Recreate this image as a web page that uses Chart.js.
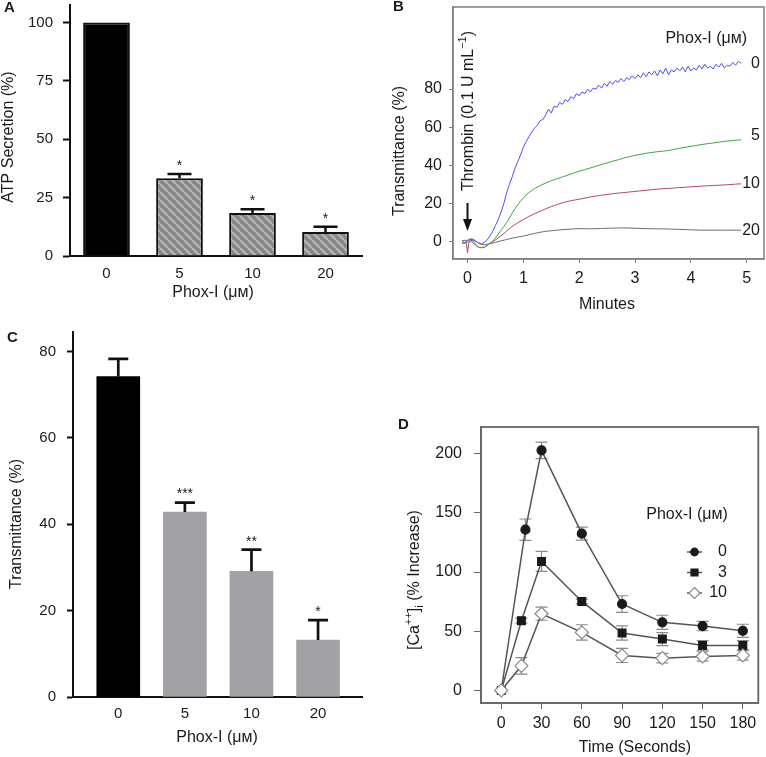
<!DOCTYPE html>
<html>
<head>
<meta charset="utf-8">
<script src="https://cdn.jsdelivr.net/npm/chart.js@4.4.0/dist/chart.umd.min.js"></script>
<style>
  html, body { margin: 0; padding: 0; background: #fff; }
  body { width: 766px; height: 757px; position: relative; overflow: hidden; }
  canvas { position: absolute; }
</style>
</head>
<body>
<canvas id="chartA" width="380" height="320" style="left:0;top:0"></canvas>
<canvas id="chartB" width="386" height="320" style="left:380px;top:0"></canvas>
<canvas id="chartC" width="380" height="437" style="left:0;top:320px"></canvas>
<canvas id="chartD" width="386" height="387" style="left:380px;top:370px"></canvas>
<script>
// Panel A - ATP secretion
const doseLabelsA = ['0', '5', '10', '20'];
const atpSecretion = [100, 33.3, 18.4, 10.3];
const atpError = [0, 1.8, 1.6, 2.2];
const atpStars = ['', '*', '*', '*'];
const atpTicks = [0, 25, 50, 75, 100];

// Panel B - aggregation traces [minutes, transmittance %]
const traceTicksX = [0, 1, 2, 3, 4, 5];
const traceTicksY = [0, 20, 40, 60, 80];
const traceNames = ['0', '5', '10', '20'];
const trace0 = [[-0.1,0.2],[-0.05,-0.5],[0,0.5],[0.05,1.2],[0.1,1.0],[0.15,0.3],[0.2,-0.6],[0.25,-1.0],[0.3,-0.3],
  [0.35,1.0],[0.4,3.0],[0.45,5.5],[0.5,8.5],[0.55,11.7],[0.6,15.5],[0.65,20],[0.7,25.6],[0.75,30],[0.8,34],
  [0.85,38.5],[0.9,42],[0.95,45.5],[1.0,49.5],[1.05,52.5],[1.1,55],[1.15,57.5],[1.2,59.5],[1.25,61],[1.3,63.5],
  [1.35,64],[1.4,66.5],[1.45,69.5],[1.5,67.5],[1.55,71],[1.6,70.5],[1.65,73],[1.7,72],[1.75,74.5],[1.8,73.5],
  [1.85,76],[1.9,75],[1.95,77.5],[2.0,76.5],[2.05,78.5],[2.1,77.5],[2.15,80],[2.2,78.5],[2.25,80.5],[2.3,80],
  [2.35,82],[2.4,80.5],[2.45,83],[2.5,81.5],[2.55,84],[2.6,82.5],[2.65,84.5],[2.7,83.5],[2.75,85.5],[2.8,84],
  [2.85,86],[2.9,85],[2.95,87],[3.0,85.5],[3.05,87.5],[3.1,86],[3.15,88.5],[3.2,86.5],[3.25,89],[3.3,87.5],
  [3.35,89.5],[3.4,87],[3.45,90],[3.5,88],[3.55,91],[3.6,87.5],[3.65,90],[3.7,89],[3.75,91],[3.8,89.5],
  [3.85,91.5],[3.9,89],[3.95,92],[4.0,89.5],[4.05,91],[4.1,90],[4.15,92.5],[4.2,90.5],[4.25,93],[4.3,91],
  [4.35,92],[4.4,90.5],[4.45,93],[4.5,91.5],[4.55,93.5],[4.6,91],[4.65,92.5],[4.7,92],[4.75,94],[4.8,92.5],
  [4.85,94.5],[4.9,93.5]];
const trace5 = [[-0.1,-0.9],[-0.05,-0.5],[0,-0.3],[0.05,0.3],[0.1,-0.5],[0.15,-2],[0.2,-3],[0.25,-3.1],[0.3,-3],
  [0.35,-2],[0.4,-0.8],[0.45,0.3],[0.5,2],[0.55,4],[0.6,6],[0.65,8],[0.7,10],[0.75,12.5],[0.8,15],[0.85,17.3],
  [0.9,19.4],[0.95,21.3],[1.0,23],[1.05,24.5],[1.1,25.8],[1.15,26.9],[1.2,27.9],[1.3,29.5],[1.4,30.8],[1.5,32],
  [1.6,33],[1.7,34],[1.8,35],[1.9,36],[2.0,37],[2.1,37.8],[2.2,38.7],[2.3,39.6],[2.4,40.5],[2.5,41.3],[2.6,42.2],
  [2.7,43],[2.8,43.9],[2.9,44.6],[3.0,45.3],[3.2,46.4],[3.4,47.2],[3.6,47.8],[3.8,49],[4.0,50],[4.2,51],[4.4,51.8],
  [4.6,52.6],[4.8,53.2],[4.9,53.4]];
const trace10 = [[-0.1,-1],[-0.05,-0.5],[-0.02,-1],[0,-5.8],[0.02,-1],[0.05,0.8],[0.1,0.5],[0.15,-1.5],[0.2,-2.8],
  [0.25,-3],[0.3,-2.8],[0.35,-2],[0.4,-0.8],[0.5,1],[0.6,3.2],[0.7,5.6],[0.8,8],[0.9,10],[1.0,11.7],[1.1,13.3],
  [1.2,14.7],[1.3,16],[1.4,17.3],[1.5,18.5],[1.6,19.5],[1.7,20.4],[1.8,21.2],[1.9,21.8],[2.0,22.3],[2.2,23.5],
  [2.4,24.4],[2.6,25.2],[2.8,25.8],[3.0,26.4],[3.2,27],[3.4,27.6],[3.6,28],[3.8,28.4],[4.0,28.8],[4.2,29.2],
  [4.4,29.5],[4.6,29.8],[4.8,30.2],[4.9,30.4]];
const trace20 = [[-0.1,0.7],[0,0.8],[0.05,1.6],[0.1,1.4],[0.15,0.3],[0.2,-0.8],[0.25,-1.4],[0.3,-1.5],[0.4,-1],
  [0.5,-0.3],[0.6,0.5],[0.7,1.2],[0.8,1.9],[0.9,2.5],[1.0,3],[1.1,3.7],[1.2,4.4],[1.3,5],[1.4,5.5],[1.5,5.8],
  [1.6,6.1],[1.8,6.6],[2.0,6.9],[2.2,6.8],[2.4,7.0],[2.6,7.2],[2.8,7.3],[3.0,7.1],[3.2,6.9],[3.4,6.8],[3.6,6.7],
  [3.8,6.5],[4.0,6.3],[4.2,6.1],[4.4,6.1],[4.6,6.1],[4.9,6.1]];

// Panel C - transmittance
const doseLabelsC = ['0', '5', '10', '20'];
const doseIndexC = [0, 1, 2, 3];
const transMean = [74.2, 42.8, 29.1, 13.2];
const transError = [4.1, 2.2, 5.0, 4.6];
const transStars = ['', '***', '**', '*'];
const transTicks = [0, 20, 40, 60, 80];

// Panel D - [Ca++]i
const timeTicks = [0, 30, 60, 90, 120, 150, 180];
const caTicks = [0, 50, 100, 150, 200];
const caNames = ['0', '3', '10'];
const time0 = [0, 18, 30, 60, 90, 120, 150, 180];
const time3 = [0, 15, 30, 60, 90, 120, 150, 180];
const time10 = [0, 15, 30, 60, 90, 120, 150, 180];
const ca0 = [0, 135.8, 202.8, 132.4, 73, 57.5, 54.4, 50.4];
const ca0Err = [0, 9, 7, 5.5, 7, 6, 4, 5.5];
const ca3 = [0, 58.9, 109, 75.2, 48.5, 43.4, 38, 38];
const ca3Err = [0, 2, 8.5, 2, 6, 5.5, 4, 4];
const ca10 = [0, 20.8, 64.8, 49, 29.6, 27.3, 28.7, 29.6];
const ca10Err = [0, 7, 5.5, 6.5, 6, 4, 4, 4];

const FONT = '"Liberation Sans", Arial, Helvetica, sans-serif';
const INK = '#1a1a1a';
Chart.defaults.font.family = FONT;
Chart.defaults.color = INK;
Chart.defaults.animation = false;
Chart.defaults.events = [];
Chart.defaults.plugins.legend.display = false;
Chart.defaults.plugins.tooltip.enabled = false;

// pin the axis boxes so the plot areas land where the figure has them
function fixWidth(w) { return scale => { scale.width = w; scale.paddingTop = 0; scale.paddingBottom = 0; }; }
function fixHeight(h) { return scale => { scale.height = h; scale.paddingLeft = 0; scale.paddingRight = 0; }; }
function setTicks(values) { return scale => { scale.ticks = values.map(v => ({ value: v })); }; }
function toPoints(pairs) { return pairs.map(p => ({ x: p[0], y: p[1] })); }
function zipXY(xs, ys) { return xs.map((x, i) => ({ x: x, y: ys[i] })); }

function drawText(ctx, text, x, y, size, opts) {
  opts = opts || {};
  ctx.save();
  ctx.font = (opts.bold ? 'bold ' : '') + size + 'px ' + FONT;
  ctx.fillStyle = opts.color || INK;
  ctx.textAlign = opts.align || 'center';
  ctx.textBaseline = opts.baseline || 'middle';
  ctx.translate(x, y);
  if (opts.rotate) ctx.rotate(-Math.PI / 2);
  ctx.fillText(text, 0, 0);
  ctx.restore();
}

// text made of pieces with super/subscripts, centred on (x, y), optionally rotated
function drawRichText(ctx, parts, x, y, size, rotate) {
  ctx.save();
  ctx.translate(x, y);
  if (rotate) ctx.rotate(-Math.PI / 2);
  ctx.fillStyle = INK;
  ctx.textBaseline = 'middle';
  ctx.textAlign = 'left';
  let total = 0;
  parts.forEach(p => {
    ctx.font = (p.size || size) + 'px ' + FONT;
    p.w = ctx.measureText(p.t).width;
    total += p.w;
  });
  let cx = -total / 2;
  parts.forEach(p => {
    ctx.font = (p.size || size) + 'px ' + FONT;
    ctx.fillText(p.t, cx, p.dy || 0);
    cx += p.w;
  });
  ctx.restore();
}

function drawErrorBars(chart, dsIndex, means, errs, style) {
  const ctx = chart.ctx;
  const meta = chart.getDatasetMeta(dsIndex);
  const yScale = chart.scales.y;
  ctx.save();
  ctx.strokeStyle = style.color;
  ctx.lineWidth = style.width;
  means.forEach((m, i) => {
    if (!errs[i]) return;
    const x = meta.data[i].x;
    const top = yScale.getPixelForValue(m + errs[i]);
    const bottom = yScale.getPixelForValue(style.both ? m - errs[i] : m);
    ctx.beginPath();
    ctx.moveTo(x, bottom);
    ctx.lineTo(x, top);
    ctx.moveTo(x - style.cap, top);
    ctx.lineTo(x + style.cap, top);
    if (style.both) {
      ctx.moveTo(x - style.cap, bottom);
      ctx.lineTo(x + style.cap, bottom);
    }
    ctx.stroke();
    if (style.stars && style.stars[i]) {
      drawText(ctx, style.stars[i], x, top - style.starGap, 14);
    }
  });
  ctx.restore();
}

const framePlugin = {
  id: 'frame',
  afterDraw(chart, args, opts) {
    const a = chart.chartArea, ctx = chart.ctx;
    ctx.save();
    ctx.strokeStyle = opts.color;
    ctx.lineWidth = opts.width;
    ctx.strokeRect(a.left, a.top, a.right - a.left, a.bottom - a.top);
    ctx.restore();
  }
};

// hatched fill for panel A
function makeHatch() {
  const c = document.createElement('canvas');
  c.width = 8; c.height = 8;
  const g = c.getContext('2d');
  g.fillStyle = '#868686';
  g.fillRect(0, 0, 8, 8);
  g.strokeStyle = '#b4b4b4';
  g.lineWidth = 2.4;
  [-8, 0, 8].forEach(o => {
    g.beginPath();
    g.moveTo(o, 0);
    g.lineTo(o + 8, 8);
    g.stroke();
  });
  return g.createPattern(c, 'repeat');
}

// ---------- Panel A ----------
const hatch = makeHatch();
new Chart(document.getElementById('chartA'), {
  type: 'bar',
  data: {
    labels: doseLabelsA,
    datasets: [{
      data: atpSecretion,
      backgroundColor: ['#000', hatch, hatch, hatch],
      borderColor: '#111',
      borderWidth: 2,
      barPercentage: 0.64,
      categoryPercentage: 1
    }]
  },
  options: {
    responsive: false,
    layout: { padding: { left: 0, top: 5, right: 18, bottom: 0 } },
    scales: {
      x: {
        grid: { display: true, drawOnChartArea: false, drawTicks: false },
        border: { color: '#111', width: 2 },
        ticks: { font: { size: 15 }, padding: 9 },
        afterFit: fixHeight(64)
      },
      y: {
        min: 0, max: 107.5,
        afterBuildTicks: setTicks(atpTicks),
        grid: { drawOnChartArea: false, tickLength: 7, tickWidth: 2, color: '#111' },
        border: { color: '#111', width: 2 },
        ticks: { font: { size: 15 }, padding: 10 },
        afterFit: fixWidth(70)
      }
    }
  },
  plugins: [{
    id: 'extrasA',
    afterDatasetsDraw(chart) {
      drawErrorBars(chart, 0, atpSecretion, atpError, { color: '#111', width: 2.5, cap: 12, stars: atpStars, starGap: 8 });
    },
    afterDraw(chart) {
      const ctx = chart.ctx;
      drawText(ctx, 'A', 4, 8, 15, { bold: true, align: 'left' });
      drawText(ctx, 'ATP Secretion (%)', 9, 137, 16, { rotate: true });
      drawText(ctx, 'Phox-I (\u03bc\u043c)', 213, 293, 16);
    }
  }]
});

// ---------- Panel B ----------
const traceColors = ['#4f4ff2', '#3fa83f', '#b3476f', '#6e6e6e'];
const traces = [trace0, trace5, trace10, trace20];
new Chart(document.getElementById('chartB'), {
  type: 'line',
  data: {
    datasets: traces.map((t, i) => ({
      label: traceNames[i],
      data: toPoints(t),
      borderColor: traceColors[i],
      borderWidth: 1,
      pointRadius: 0,
      tension: 0
    }))
  },
  options: {
    responsive: false,
    layout: { padding: { left: 0, top: 7, right: 2, bottom: 0 } },
    scales: {
      x: {
        type: 'linear', min: -0.26, max: 5.31,
        afterBuildTicks: setTicks(traceTicksX),
        grid: { drawOnChartArea: false, tickLength: 4, color: '#808080' },
        border: { color: '#808080', width: 1.5 },
        ticks: { font: { size: 16 }, padding: 6 },
        afterFit: fixHeight(61)
      },
      y: {
        min: -9, max: 123,
        afterBuildTicks: setTicks(traceTicksY),
        grid: { drawOnChartArea: false, tickLength: 4, color: '#808080' },
        border: { color: '#808080', width: 1.5 },
        ticks: { font: { size: 16 }, padding: 7 },
        afterFit: fixWidth(73)
      }
    },
    plugins: { frame: { color: '#808080', width: 1.5 } }
  },
  plugins: [framePlugin, {
    id: 'extrasB',
    afterDraw(chart) {
      const ctx = chart.ctx, xs = chart.scales.x, ys = chart.scales.y;
      drawText(ctx, 'B', 13, 7, 15, { bold: true, align: 'left' });
      drawText(ctx, 'Transmittance (%)', 20, 151, 16, { rotate: true });
      drawText(ctx, 'Minutes', 227, 305, 16);
      drawText(ctx, 'Phox-I (\u03bc\u043c)', 367, 39, 16, { align: 'right' });
      // dose labels at the end of each trace
      traces.forEach((t, i) => {
        const last = t[t.length - 1];
        const y = ys.getPixelForValue(last[1]) - (i === 1 ? 4 : 0);
        drawText(ctx, traceNames[i], 380, y, 16, { align: 'right' });
      });
      // thrombin arrow at time 0
      const ax = xs.getPixelForValue(0);
      ctx.save();
      ctx.strokeStyle = '#111';
      ctx.fillStyle = '#111';
      ctx.lineWidth = 2;
      ctx.beginPath();
      ctx.moveTo(ax, 203);
      ctx.lineTo(ax, 221);
      ctx.stroke();
      ctx.beginPath();
      ctx.moveTo(ax - 4.5, 219);
      ctx.lineTo(ax + 4.5, 219);
      ctx.lineTo(ax, 231);
      ctx.closePath();
      ctx.fill();
      ctx.restore();
      drawRichText(ctx, [
        { t: 'Thrombin (0.1 U mL' },
        { t: '\u22121', size: 11, dy: -6 },
        { t: ')' }
      ], ax + 1, 111, 16, true);
    }
  }]
});

// ---------- Panel C ----------
new Chart(document.getElementById('chartC'), {
  type: 'bar',
  data: {
    datasets: [{
      data: zipXY(doseIndexC, transMean),
      backgroundColor: ['#000', '#a2a2a6', '#a2a2a6', '#a2a2a6'],
      borderWidth: 0,
      barThickness: 43
    }]
  },
  options: {
    responsive: false,
    layout: { padding: { left: 0, top: 12, right: 18, bottom: 0 } },
    scales: {
      x: {
        type: 'linear', min: -0.68, max: 3.66, offset: false,
        afterBuildTicks: setTicks(doseIndexC),
        grid: { display: true, drawOnChartArea: false, drawTicks: false, offset: false },
        border: { color: '#111', width: 2 },
        ticks: { font: { size: 15 }, padding: 8, callback: (v, i) => doseLabelsC[i] },
        afterFit: fixHeight(60)
      },
      y: {
        min: 0, max: 84.5,
        afterBuildTicks: setTicks(transTicks),
        grid: { drawOnChartArea: false, tickLength: 6, tickWidth: 2, color: '#111' },
        border: { color: '#111', width: 2 },
        ticks: { font: { size: 15 }, padding: 11 },
        afterFit: fixWidth(73)
      }
    }
  },
  plugins: [{
    id: 'extrasC',
    afterDatasetsDraw(chart) {
      drawErrorBars(chart, 0, transMean, transError, { color: '#111', width: 2.7, cap: 10, stars: transStars, starGap: 8 });
    },
    afterDraw(chart) {
      const ctx = chart.ctx;
      drawText(ctx, 'C', 7, 18, 15, { bold: true, align: 'left' });
      drawText(ctx, 'Transmittance (%)', 17, 204, 16, { rotate: true });
      drawText(ctx, 'Phox-I (\u03bc\u043c)', 217, 418, 16);
    }
  }]
});

// ---------- Panel D ----------
const caStyles = [
  { pointStyle: 'circle', radius: 4.5, fill: '#1a1a1a', stroke: '#1a1a1a' },
  { pointStyle: 'rect', radius: 5.5, fill: '#1a1a1a', stroke: '#1a1a1a' },
  { pointStyle: 'rectRot', radius: 6.5, fill: '#ffffff', stroke: '#8a8a8a' }
];
const caSeries = [
  { x: time0, y: ca0, err: ca0Err },
  { x: time3, y: ca3, err: ca3Err },
  { x: time10, y: ca10, err: ca10Err }
];
new Chart(document.getElementById('chartD'), {
  type: 'line',
  data: {
    datasets: caSeries.map((s, i) => ({
      label: caNames[i],
      data: zipXY(s.x, s.y),
      borderColor: '#555',
      borderWidth: 1.5,
      tension: 0,
      pointStyle: caStyles[i].pointStyle,
      pointRadius: caStyles[i].radius,
      pointBackgroundColor: caStyles[i].fill,
      pointBorderColor: caStyles[i].stroke,
      pointBorderWidth: 1.2,
      order: 2 - i
    }))
  },
  options: {
    responsive: false,
    layout: { padding: { left: 0, top: 57, right: 6, bottom: 0 } },
    scales: {
      x: {
        type: 'linear', min: -15.1, max: 191.5,
        afterBuildTicks: setTicks(timeTicks),
        grid: { drawOnChartArea: false, tickLength: 6, color: '#666' },
        border: { color: '#666', width: 1.5 },
        ticks: { font: { size: 16 }, padding: 5 },
        afterFit: fixHeight(54)
      },
      y: {
        min: -10.6, max: 222.5,
        afterBuildTicks: setTicks(caTicks),
        grid: { drawOnChartArea: false, tickLength: 7, color: '#666' },
        border: { color: '#666', width: 1.5 },
        ticks: { font: { size: 16 }, padding: 12 },
        afterFit: fixWidth(101)
      }
    },
    plugins: { frame: { color: '#666', width: 1.8 } }
  },
  plugins: [framePlugin, {
    id: 'extrasD',
    beforeDatasetsDraw(chart) {
      caSeries.forEach((s, i) => {
        drawErrorBars(chart, i, s.y, s.err, { color: '#8a8a8a', width: 1.2, cap: 6, both: true });
      });
    },
    afterDraw(chart) {
      const ctx = chart.ctx;
      drawText(ctx, 'D', 18, 55, 15, { bold: true, align: 'left' });
      drawRichText(ctx, [
        { t: '[Ca' },
        { t: '++', size: 11, dy: -6 },
        { t: ']' },
        { t: 'i', size: 11, dy: 5 },
        { t: ' (% Increase)' }
      ], 35, 210, 16, true);
      drawText(ctx, 'Time (Seconds)', 255, 378, 16);
      drawText(ctx, 'Phox-I (\u03bc\u043c)', 307, 145, 16);
      // legend
      caNames.forEach((name, i) => {
        const y = 182 + i * 20.5;
        const st = caStyles[i];
        ctx.save();
        ctx.strokeStyle = '#555';
        ctx.lineWidth = 1.5;
        ctx.beginPath();
        ctx.moveTo(307, y);
        ctx.lineTo(322, y);
        ctx.stroke();
        ctx.fillStyle = st.fill;
        ctx.strokeStyle = st.stroke;
        ctx.lineWidth = 1.2;
        ctx.beginPath();
        if (st.pointStyle === 'circle') {
          ctx.arc(314.5, y, 3.8, 0, Math.PI * 2);
        } else if (st.pointStyle === 'rect') {
          ctx.rect(311, y - 3.5, 7, 7);
        } else {
          ctx.moveTo(314.5, y - 5.5);
          ctx.lineTo(320, y);
          ctx.lineTo(314.5, y + 5.5);
          ctx.lineTo(309, y);
          ctx.closePath();
        }
        ctx.fill();
        ctx.stroke();
        ctx.restore();
        drawText(ctx, name, 347, y, 16, { align: 'right' });
      });
    }
  }]
});
</script>
</body>
</html>
